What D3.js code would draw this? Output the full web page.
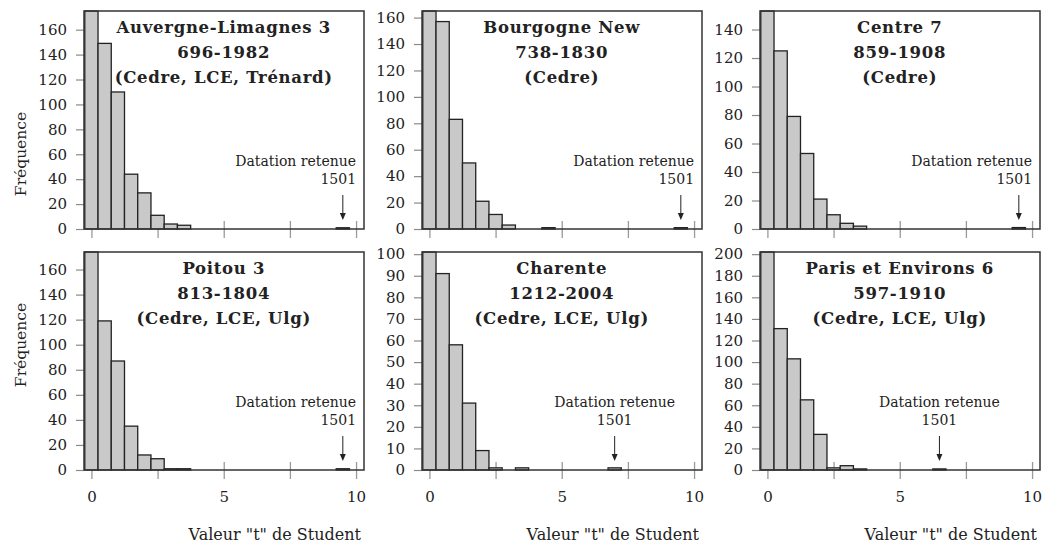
<!DOCTYPE html>
<html>
<head>
<meta charset="utf-8">
<script src="https://cdn.jsdelivr.net/npm/d3@7"></script>
<style>
  body { margin: 0; background: #fff; }
  svg text { font-family: "DejaVu Serif", serif; fill: #222; }
</style>
</head>
<body>
<svg id="chart" width="1042" height="549"></svg>
<script>
// bin centres of the histograms (width 0.5)
const binCenters = [0, 0.5, 1, 1.5, 2, 2.5, 3, 3.5, 4, 4.5, 5, 5.5, 6, 6.5, 7, 7.5, 8, 8.5, 9, 9.5];

// counts per bin
const countsAuvergne  = [175, 149, 110, 44, 29, 11, 4, 3, 0, 0, 0, 0, 0, 0, 0, 0, 0, 0, 0, 1];
const countsBourgogne = [165, 157, 83, 50, 21, 11, 3, 0, 0, 1, 0, 0, 0, 0, 0, 0, 0, 0, 0, 1];
const countsCentre    = [153, 125, 79, 53, 21, 10, 4, 2, 0, 0, 0, 0, 0, 0, 0, 0, 0, 0, 0, 1];
const countsPoitou    = [174, 119, 87, 35, 12, 9, 1, 1, 0, 0, 0, 0, 0, 0, 0, 0, 0, 0, 0, 1];
const countsCharente  = [101, 91, 58, 31, 9, 1, 0, 1, 0, 0, 0, 0, 0, 0, 1, 0, 0, 0, 0, 0];
const countsParis     = [202, 131, 103, 65, 33, 2, 4, 1, 0, 0, 0, 0, 0, 1, 0, 0, 0, 0, 0, 0];

const titles = [
  ["Auvergne-Limagnes 3", "696-1982", "(Cedre, LCE, Trénard)"],
  ["Bourgogne New", "738-1830", "(Cedre)"],
  ["Centre 7", "859-1908", "(Cedre)"],
  ["Poitou 3", "813-1804", "(Cedre, LCE, Ulg)"],
  ["Charente", "1212-2004", "(Cedre, LCE, Ulg)"],
  ["Paris et Environs 6", "597-1910", "(Cedre, LCE, Ulg)"]
];
const allCounts = [countsAuvergne, countsBourgogne, countsCentre, countsPoitou, countsCharente, countsParis];
const yTickStep = [20, 20, 20, 20, 10, 20];
const retainedT = [9.5, 9.5, 9.5, 9.5, 7, 6.5];
const retainedText = ["Datation retenue", "1501"];
const xTicks = [0, 2.5, 5, 7.5, 10];
const xTickLabels = [0, 5, 10];
const xTitle = 'Valeur "t" de Student';
const yTitle = "Fréquence";

// layout
const colLeft = [84, 422, 760];
const rowTop = [11, 252];
const pw = 280, ph = 218;
const yTitleCenter = [154, 345];

const svg = d3.select("#chart");

allCounts.forEach((counts, i) => {
  let col = i % 3, row = Math.floor(i / 3);
  let g = svg.append("g").attr("transform", "translate(" + colLeft[col] + "," + rowTop[row] + ")");

  let x = d3.scaleLinear().domain([-0.28, 10.3]).range([0, pw]);
  let y = d3.scaleLinear().domain([0, d3.max(counts)]).range([ph, 0]);

  // x ticks (grey, crossing the axis)
  let xAxis = d3.axisBottom(x)
      .tickValues(xTicks)
      .tickSize(17)
      .tickPadding(12)
      .tickFormat(d => (row == 1 && xTickLabels.includes(d)) ? d : "");
  let gx = g.append("g").attr("transform", "translate(0," + (ph - 8) + ")").call(xAxis);
  gx.select(".domain").remove();
  gx.selectAll("line").attr("stroke", "#9a9a9a").attr("stroke-width", 1.3);
  gx.selectAll("text").attr("font-size", 15).attr("font-family", "DejaVu Serif").attr("fill", "#222");

  // y axis
  let yAxis = d3.axisLeft(y)
      .tickValues(d3.range(0, d3.max(counts) + 0.1, yTickStep[i]))
      .tickSize(8)
      .tickPadding(9);
  let gy = g.append("g").call(yAxis);
  gy.select(".domain").remove();
  gy.selectAll("line").attr("stroke", "#8a8a8a").attr("stroke-width", 1.2);
  gy.selectAll("text").attr("font-size", 15).attr("font-family", "DejaVu Serif").attr("fill", "#222");

  // bars
  let bins = binCenters.map((c, k) => ({c: c, v: counts[k]})).filter(d => d.v > 0);
  g.selectAll("rect.bar").data(bins).enter().append("rect")
      .attr("class", "bar")
      .attr("x", d => x(d.c - 0.25))
      .attr("width", d => x(d.c + 0.25) - x(d.c - 0.25))
      .attr("y", d => y(d.v))
      .attr("height", d => y(0) - y(d.v))
      .attr("fill", "#c9c9c9")
      .attr("stroke", "#222")
      .attr("stroke-width", 1.3);

  // frame
  g.append("rect")
      .attr("width", pw).attr("height", ph)
      .attr("fill", "none").attr("stroke", "#333").attr("stroke-width", 1.5);

  // titles
  titles[i].forEach((t, k) => {
    g.append("text")
        .attr("x", x(5)).attr("y", 22 + 25 * k)
        .attr("text-anchor", "middle")
        .attr("font-size", 16.5).attr("font-weight", "bold")
        .attr("letter-spacing", 0.7)
        .text(t);
  });

  // retained dating arrow + label
  let ax = x(retainedT[i]);
  g.append("line")
      .attr("x1", ax).attr("x2", ax).attr("y1", 184).attr("y2", 203)
      .attr("stroke", "#222").attr("stroke-width", 1);
  g.append("path")
      .attr("d", "M" + (ax - 3) + ",202L" + (ax + 3) + ",202L" + ax + ",209Z")
      .attr("fill", "#222");
  retainedText.forEach((t, k) => {
    let txt = g.append("text")
        .attr("y", 155 + 18 * k)
        .attr("text-anchor", "middle")
        .attr("font-size", 14)
        .text(t);
    let w = txt.node().getComputedTextLength();
    txt.attr("x", Math.min(ax, x(10) - w / 2));
  });

  // axis titles
  if (row == 1) {
    g.append("text")
        .attr("x", pw - 3).attr("y", ph + 70)
        .attr("text-anchor", "end")
        .attr("font-size", 16)
        .text(xTitle);
  }
  if (col == 0) {
    svg.append("text")
        .attr("transform", "translate(26," + yTitleCenter[row] + ") rotate(-90)")
        .attr("text-anchor", "middle")
        .attr("font-size", 15.5)
        .text(yTitle);
  }
});
</script>
</body>
</html>
